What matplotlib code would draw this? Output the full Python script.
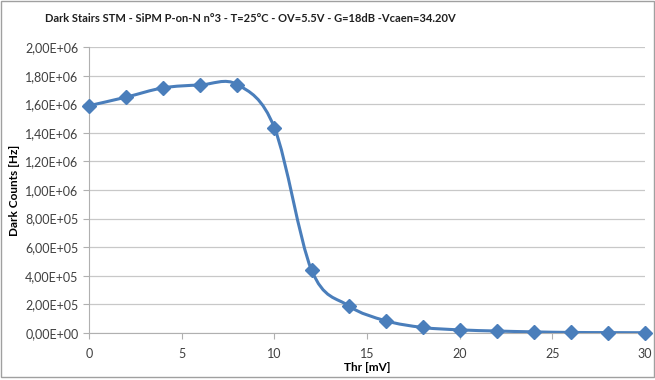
import numpy as np
import matplotlib
matplotlib.use("Agg")
import matplotlib.pyplot as plt
from matplotlib.path import Path
from matplotlib.patches import PathPatch, Rectangle
from matplotlib.ticker import FuncFormatter, MultipleLocator

plt.rcParams['font.family'] = ['Lato', 'DejaVu Sans']

# data
thr = [0, 2, 4, 6, 8, 10, 12, 14, 16, 18, 20, 22, 24, 26, 28, 30]
counts = [1.59e6, 1.65e6, 1.715e6, 1.735e6, 1.738e6, 1.435e6, 0.44e6, 0.19e6,
          0.085e6, 0.038e6, 0.021e6, 0.013e6, 0.007e6, 0.003e6, 0.002e6, 0.001e6]

blue = '#4a7ebb'

fig = plt.figure(figsize=(6.55, 3.8), dpi=100)
ax = fig.add_axes([0.136, 0.124, 0.849, 0.752])

# smoothed line like the spreadsheet one (Catmull-Rom as cubic Bezier)
x = np.array(thr, float)
y = np.array(counts, float)
verts = [(x[0], y[0])]
codes = [Path.MOVETO]
n = len(x)
for i in range(n - 1):
    p0 = np.array([x[max(i - 1, 0)], y[max(i - 1, 0)]])
    p1 = np.array([x[i], y[i]])
    p2 = np.array([x[i + 1], y[i + 1]])
    p3 = np.array([x[min(i + 2, n - 1)], y[min(i + 2, n - 1)]])
    c1 = p1 + (p2 - p0) / 6
    c2 = p2 - (p3 - p1) / 6
    verts += [tuple(c1), tuple(c2), tuple(p2)]
    codes += [Path.CURVE4] * 3
ax.add_patch(PathPatch(Path(verts, codes), fill=False, edgecolor=blue, lw=2.2, zorder=3))
ax.plot(thr, counts, ls='none', marker='D', ms=7, color=blue, zorder=4, clip_on=False)

ax.set_xlim(0, 30)
ax.set_ylim(0, 2.0e6)
ax.xaxis.set_major_locator(MultipleLocator(5))
ax.yaxis.set_major_locator(MultipleLocator(2e5))
ax.yaxis.set_major_formatter(FuncFormatter(lambda v, p: f"{v:.2E}".replace('.', ',')))
ax.grid(axis='y', color='#c8c8c8', lw=0.9)
ax.set_axisbelow(True)
for s in ['top', 'right']:
    ax.spines[s].set_visible(False)
for s in ['left', 'bottom']:
    ax.spines[s].set_color('#b0b0b0')
ax.tick_params(colors='#b0b0b0', labelcolor='#404040', labelsize=9, length=4)
ax.tick_params(axis='x', pad=7)

ax.set_title('Dark Stairs STM - SiPM P-on-N n°3 - T=25°C - OV=5.5V - G=18dB -Vcaen=34.20V',
             fontsize=8.0, fontweight='bold', color='#202020', x=0.29, pad=18)
ax.set_xlabel('Thr [mV]', fontsize=8.5, fontweight='bold', labelpad=1)
ax.set_ylabel('Dark Counts [Hz]', fontsize=8.5, fontweight='bold', labelpad=4)

fig.patches.append(Rectangle((0.002, 0.008), 0.996, 0.99, transform=fig.transFigure,
                             fill=False, edgecolor='#a0a0a0', lw=1.0))

fig.savefig('out.png', dpi=100)
